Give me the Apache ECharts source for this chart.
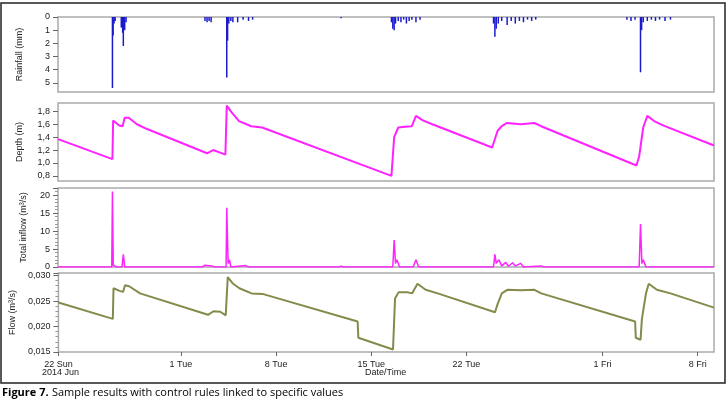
<!DOCTYPE html>
<html><head><meta charset="utf-8">
<script src="https://cdn.jsdelivr.net/npm/echarts@6/dist/echarts.min.js"></script>
<style>body{margin:0;background:#fff}#c{width:728px;height:410px}</style>
</head><body><div id="c"></div>
<script>
// x values are days since 22 Jun 2014
var tickDays = [0, 9, 16, 23, 30, 40, 47];
var tickLabels = ['22 Sun', '1 Tue', '8 Tue', '15 Tue', '22 Tue', '1 Fri', '8 Fri'];

var rainfall = [[4.0,5.4],[4.05,1.4],[4.12,0.5],[4.2,0.3],[4.65,0.8],[4.75,1.2],[4.8,2.2],[4.9,1.0],[5.0,0.4],
  [10.8,0.3],[10.95,0.4],[11.1,0.3],[11.25,0.4],[12.4,4.6],[12.46,1.8],[12.55,0.5],[12.7,0.3],[12.85,0.4],[13.2,0.4],[13.6,0.2],[14.0,0.3],[14.3,0.2],
  [20.8,0.1],[24.5,0.4],[24.6,0.9],[24.7,1.0],[24.8,0.5],[25.0,0.3],[25.2,0.4],[25.4,0.2],[25.6,0.5],[25.8,0.3],[26.0,0.2],[26.3,0.4],[26.6,0.2],
  [32.0,0.5],[32.1,1.5],[32.2,0.9],[32.35,0.5],[32.6,0.3],[33.0,0.6],[33.3,0.3],[33.6,0.5],[33.9,0.3],[34.2,0.4],[34.5,0.2],[34.8,0.3],[35.1,0.2],
  [41.8,0.2],[42.1,0.3],[42.4,0.2],[42.8,4.2],[42.88,1.0],[43.0,0.4],[43.3,0.3],[43.6,0.2],[43.9,0.3],[44.2,0.2],[44.6,0.3],[45.0,0.2]];

var depth = [[0,1.37],[4.0,1.06],[4.05,1.66],[4.5,1.58],[4.75,1.57],[4.9,1.70],[5.2,1.70],[5.8,1.60],[6.5,1.53],
  [10.95,1.15],[11.4,1.20],[12.3,1.13],[12.4,1.89],[12.7,1.80],[13.3,1.65],[14.2,1.57],[15,1.55],
  [24.5,0.80],[24.7,1.40],[25,1.55],[25.5,1.56],[26.0,1.57],[26.3,1.73],[26.8,1.66],[27.5,1.60],
  [31.9,1.24],[32.3,1.50],[32.6,1.57],[33,1.62],[34,1.60],[35,1.62],[35.5,1.57],
  [42.5,0.96],[42.7,1.10],[43.0,1.55],[43.3,1.73],[43.8,1.65],[44.5,1.58],[48.2,1.27]];

var inflow = [[0,0],[3.95,0],[4.0,21],[4.06,0.5],[4.15,1],[4.3,0],[4.7,0],[4.8,3.5],[4.9,0],
  [10.6,0],[10.8,0.5],[11.3,0.3],[11.5,0],[12.35,0],[12.4,16.5],[12.5,1],[12.6,2],[12.7,0],[13.8,0.4],[14.0,0],
  [20.6,0],[20.8,0.2],[21.0,0],[24.6,0],[24.7,7.5],[24.8,1],[24.9,2],[25.1,0],[26.1,0],[26.3,2],[26.5,0],
  [32.0,0],[32.1,3.5],[32.2,1],[32.4,2],[32.6,0.3],[32.9,1.3],[33.1,0.2],[33.4,1.2],[33.6,0.3],[34.0,1],[34.2,0],[35.5,0.3],[35.7,0],
  [42.7,0],[42.8,12],[42.9,1],[43.0,2],[43.2,0],[44.5,0],[48.2,0]];

var flow = [[0,0.0247],[4.0,0.0215],[4.05,0.0275],[4.5,0.0270],[4.75,0.0268],[4.9,0.0281],[5.2,0.0279],[6,0.0265],
  [11.0,0.0223],[11.4,0.0230],[11.9,0.0229],[12.3,0.0222],[12.45,0.0297],[12.8,0.0285],[13.3,0.0275],[14.2,0.0265],[15,0.0264],
  [22.0,0.0210],[22.05,0.0178],[24.6,0.0155],[24.75,0.0255],[25,0.0267],[25.7,0.0267],[26,0.0265],[26.4,0.0284],[27,0.0272],[28,0.0264],
  [32.1,0.0228],[32.3,0.0245],[32.6,0.0265],[33,0.0272],[34,0.0271],[35,0.0272],[35.5,0.0265],
  [42.4,0.0210],[42.45,0.0178],[42.8,0.0174],[42.9,0.0215],[43.2,0.0265],[43.4,0.0284],[44,0.0272],[45,0.0265],[48.2,0.0237]];

var grids = [[17,92],[103,181],[188,267],[273,352]];
var comma = function (v, d) { return v.toFixed(d).replace('.', ','); };
var font = 'Arial';

function xAxis(i, last) {
  return {
    gridIndex: i, type: 'value', min: 0, max: 48.2,
    axisLine: { show: false }, splitLine: { show: false },
    axisTick: { show: last, customValues: tickDays, length: 4, lineStyle: { color: '#666' } },
    axisLabel: {
      show: last, customValues: tickDays, color: '#222', fontSize: 9, fontFamily: font,
      formatter: function (v) { return tickLabels[tickDays.indexOf(v)]; }
    }
  };
}
function yAxis(i, name, o) {
  var a = {
    gridIndex: i, type: 'value', name: name, nameLocation: 'middle', nameGap: 34,
    nameTextStyle: { fontSize: 9, color: '#222', fontFamily: font },
    axisLine: { show: false }, splitLine: { show: false },
    axisTick: { show: true, length: 5, lineStyle: { color: '#666' } },
    minorTick: { show: true, splitNumber: 5, length: 3, lineStyle: { color: '#999' } },
    axisLabel: { color: '#222', fontSize: 9, fontFamily: font, margin: 8 }
  };
  for (var k in o) a[k] = o[k];
  return a;
}
var lbl = function (vals, fmt) {
  return { color: '#222', fontSize: 9, fontFamily: font, customValues: vals, formatter: fmt };
};
var tk = function (vals) { return { show: true, length: 5, customValues: vals, lineStyle: { color: '#666' } }; };
var rainTicks = [0, 1, 2, 3, 4, 5];
var depthTicks = [0.8, 1.0, 1.2, 1.4, 1.6, 1.8];

var chart = echarts.init(document.getElementById('c'));
chart.setOption({
  animation: false,
  grid: grids.map(function (g) {
    return { left: 58, right: 14, top: g[0], height: g[1] - g[0], show: true, borderColor: '#aaa', borderWidth: 1.5, backgroundColor: '#fff' };
  }),
  xAxis: [xAxis(0, false), xAxis(1, false), xAxis(2, false), xAxis(3, true)],
  yAxis: [
    yAxis(0, 'Rainfall (mm)', { inverse: true, min: 0, max: 5.7, axisLabel: lbl(rainTicks), axisTick: tk(rainTicks), minorTick: { show: false } }),
    yAxis(1, 'Depth (m)', { min: 0.72, max: 1.93, axisLabel: lbl(depthTicks, function (v) { return comma(v, 1); }), axisTick: tk(depthTicks), minorTick: { show: false } }),
    yAxis(2, 'Total inflow (m\u00b3/s)', { min: 0, max: 22, interval: 5, nameGap: 30 }),
    yAxis(3, 'Flow (m\u00b3/s)', { min: 0.015, max: 0.0305, interval: 0.005, nameGap: 40, axisLabel: { color: '#222', fontSize: 9, fontFamily: font, formatter: function (v) { return comma(v, 3); } } })
  ],
  series: [
    { type: 'bar', xAxisIndex: 0, yAxisIndex: 0, data: rainfall, barWidth: 1.5, itemStyle: { color: '#1a1acc' } },
    { type: 'line', xAxisIndex: 1, yAxisIndex: 1, data: depth, showSymbol: false, lineStyle: { color: '#ff22ff', width: 2 } },
    { type: 'line', xAxisIndex: 2, yAxisIndex: 2, data: inflow, showSymbol: false, lineStyle: { color: '#ff22ff', width: 1.5 } },
    { type: 'line', xAxisIndex: 3, yAxisIndex: 3, data: flow, showSymbol: false, lineStyle: { color: '#858a4a', width: 2 } }
  ],
  graphic: [
    { type: 'rect', shape: { x: 1, y: 3, width: 724, height: 380 }, style: { fill: 'none', stroke: '#222', lineWidth: 1.5 }, z: -1 },
    { type: 'text', left: 42, top: 368, style: { text: '2014 Jun', fontSize: 9, fontFamily: font, fill: '#222' } },
    { type: 'text', left: 365, top: 368, style: { text: 'Date/Time', fontSize: 9, fontFamily: font, fill: '#222' } },
    { type: 'text', left: 2, top: 387, style: { rich: { b: { fontWeight: 'bold', fontSize: 11, fontFamily: 'Open Sans' }, n: { fontSize: 11, fontFamily: 'Open Sans' } }, text: '{b|Figure 7.} {n|Sample results with control rules linked to specific values}' } }
  ]
});
</script></body></html>
